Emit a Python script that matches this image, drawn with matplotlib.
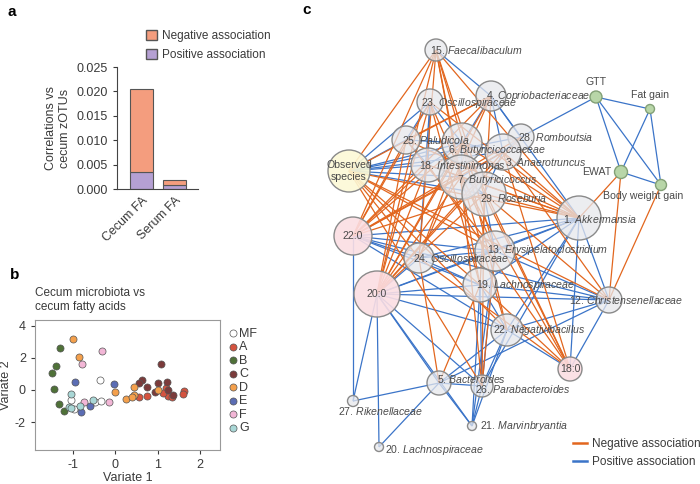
import matplotlib
matplotlib.use('Agg')
import matplotlib.pyplot as plt
from matplotlib.patches import Circle, Patch
from matplotlib.lines import Line2D

plt.rcParams['font.family'] = ['Liberation Sans', 'DejaVu Sans']
plt.rcParams['mathtext.fontset'] = 'custom'
plt.rcParams['mathtext.it'] = 'Liberation Sans:italic'
plt.rcParams['mathtext.rm'] = 'Liberation Sans'
plt.rcParams['axes.unicode_minus'] = False

# ---- panel a: share of significant correlations ----
fa_groups = ['Cecum FA', 'Serum FA']
positive_share = [0.0035, 0.0008]
negative_share = [0.0170, 0.0010]

# ---- panel b: sPLS variates, one list per group ----
group_names = ['MF', 'A', 'B', 'C', 'D', 'E', 'F', 'G']
group_colors = ['#ffffff', '#d4533f', '#4f7138', '#7b3b3b', '#f4a04c', '#5b6db4', '#f2b6d6', '#a9d7d6']
variate1 = [
    [-0.36, -1.05, -0.47, -0.33, -0.97],
    [0.57, 0.76, 1.20, 1.25, 1.33, 1.62, 1.60, 1.13],
    [-1.31, -1.39, -1.48, -1.45, -1.33, -1.20],
    [1.09, 0.63, 0.55, 0.74, 1.02, 1.23, 0.94, 1.25, 1.37],
    [-0.99, -0.86, 0.00, 0.25, 0.45, 0.44, 0.40, 1.02],
    [-0.94, -0.02, -0.59, -0.80],
    [-0.32, -0.78, -0.74, -0.14],
    [-1.03, -1.09, -1.03, -0.84, -0.53],
]
variate2 = [
    [0.62, -0.62, -0.77, -0.66, -1.20],
    [-0.46, -0.37, 0.10, -0.37, -0.41, -0.06, -0.25, -0.20],
    [2.63, 1.51, 1.04, 0.06, -0.89, -1.28],
    [1.61, 0.62, 0.41, 0.17, 0.41, 0.48, -0.10, 0.00, -0.31],
    [3.15, 2.03, -0.14, -0.58, 0.21, -0.30, -0.45, 0.00],
    [0.48, 0.35, -0.97, -1.39],
    [2.44, 1.59, -0.77, -0.72],
    [-0.27, -1.04, -1.14, -0.97, -0.62],
]

# ---- panel c: association network ----
node_keys = ['15', '4', '23', '25', '28', '6', '3', '18', 'obs', '7', '29', '1', 'c22', '24',
             '13', 'c20', '19', '12', '22', 'c18', '5', '26', '27', '21', '20',
             'gtt', 'fat', 'ewat', 'bwg']
node_number = ['15.', '4.', '23.', '25.', '28.', '6.', '3.', '18.', '', '7.', '29.', '1.', '', '24.',
               '13.', '', '19.', '12.', '22.', '', '5.', '26.', '27.', '21.', '20.',
               '', '', '', '']
node_name = ['Faecalibaculum', 'Copriobacteriaceae', 'Oscillospiraceae', 'Paludicola', 'Romboutsia',
             'Butyricicoccaceae', 'Anaerotruncus', 'Intestinimonas', 'Observed\nspecies',
             'Butyricicoccus', 'Roseburia', 'Akkermansia', '22:0', 'Oscillospiraceae',
             'Erysipelatoclostridium', '20:0', 'Lachnospiraceae', 'Christensenellaceae',
             'Negativibacillus', '18:0', 'Bacteroides', 'Parabacteroides', 'Rikenellaceae',
             'Marvinbryantia', 'Lachnospiraceae', 'GTT', 'Fat gain', 'EWAT', 'Body weight gain']
node_kind = ['taxon'] * 8 + ['obs', 'taxon', 'taxon', 'taxon', 'fa', 'taxon', 'taxon', 'fa',
             'taxon', 'taxon', 'taxon', 'fa', 'taxon', 'taxon', 'taxon', 'taxon', 'taxon',
             'pheno', 'pheno', 'pheno', 'pheno']
node_weight = [11, 15, 13, 14, 13, 20, 18, 17, 21, 22, 22, 22, 19, 15,
               20, 23, 17, 13, 16, 12, 12, 11, 5.5, 4.5, 4.5,
               6, 4.5, 6.5, 5.5]

# layout of the graph (x to the right, y downward)
layout_x = [436, 491, 430, 406, 521, 462, 503, 428, 349, 461, 484, 579, 353, 419,
            495, 377, 480, 609, 507, 570, 439, 482, 353, 472, 379,
            596, 650, 621, 661]
layout_y = [50, 96, 102, 140, 137, 143, 152, 165, 171, 177, 194, 218, 236, 258,
            251, 294, 285, 300, 330, 369, 383, 386, 401, 426, 447,
            97, 109, 172, 185]
label_dx = [-6, -5, -9, -4, -3, -14, 2, -9, 0, -4, -4, -16, 0, -6,
            -8, 0, -4, -40, -14, 0, -2, -7, -15, 8, 6,
            0, 0, -10, -18]
label_dy = [0, 0, 1, 0, 0, 7, 10, 0, 0, 3, 4, 1, 0, 1,
            -1, 0, 0, 0, 0, 0, -4, 3, 10, 0, 3,
            -15, -14, 0, 11]
label_ha = ['left'] * 8 + ['center', 'left', 'left', 'left', 'center', 'left', 'left', 'center',
            'left', 'left', 'left', 'center', 'left', 'left', 'left', 'left', 'left',
            'center', 'center', 'right', 'center']

negative_edges = [
    ('obs', '15'), ('obs', '4'), ('obs', '1'), ('obs', '24'), ('obs', '13'), ('obs', '19'),
    ('obs', '22'), ('obs', '26'), ('obs', '12'),
    ('c22', '15'), ('c22', '4'), ('c22', '23'), ('c22', '25'), ('c22', '28'), ('c22', '6'),
    ('c22', '3'), ('c22', '18'), ('c22', '7'), ('c22', '29'),
    ('c20', '15'), ('c20', '4'), ('c20', '23'), ('c20', '25'), ('c20', '6'), ('c20', '3'),
    ('c20', '18'), ('c20', '7'), ('c20', '29'), ('c20', '28'),
    ('c18', '6'), ('c18', '3'), ('c18', '7'), ('c18', '29'), ('c18', '18'), ('c18', '24'),
    ('c18', '19'),
    ('15', '24'), ('15', '13'), ('15', '19'), ('15', '1'), ('15', '7'), ('15', '29'),
    ('23', '13'), ('23', '19'), ('4', '24'), ('4', '19'), ('25', '4'), ('25', '13'),
    ('25', '1'), ('6', '1'), ('3', '1'), ('7', '1'), ('29', '1'), ('18', '1'), ('6', '22'),
    ('7', '22'), ('29', '12'), ('3', '12'), ('29', '26'), ('7', '26'), ('24', '5'),
    ('19', '5'), ('13', '26'), ('6', '24'), ('23', '1'),
    ('ewat', '1'), ('ewat', '12'), ('bwg', '12'),
]
positive_edges = [
    ('obs', '23'), ('obs', '25'), ('obs', '18'), ('obs', '6'), ('obs', '3'), ('obs', '7'),
    ('obs', '29'), ('obs', '28'),
    ('c22', '1'), ('c22', '13'), ('c22', '12'), ('c22', '19'), ('c22', '24'), ('c22', '27'),
    ('c22', '22'),
    ('c20', '5'), ('c20', '26'), ('c20', '22'), ('c20', '12'), ('c20', '13'), ('c20', '19'),
    ('c20', '24'), ('c20', '27'), ('c20', '20'), ('c20', '21'), ('c20', '1'),
    ('15', '4'), ('4', '1'), ('4', '28'), ('4', '3'), ('4', '6'), ('23', '25'), ('23', '6'),
    ('23', '18'), ('23', '24'), ('25', '18'), ('25', '6'), ('6', '3'), ('6', '18'), ('6', '7'),
    ('3', '7'), ('3', '29'), ('3', '28'), ('18', '7'), ('7', '29'), ('29', '13'),
    ('28', 'gtt'),
    ('1', '12'), ('1', '22'), ('1', '26'), ('1', '13'), ('1', 'c18'), ('1', '24'), ('1', '19'),
    ('12', '22'), ('12', 'c18'), ('12', '13'), ('12', '19'), ('12', '5'),
    ('22', '5'), ('22', '26'), ('22', 'c18'), ('22', '21'), ('22', '19'), ('13', '26'),
    ('13', '21'), ('13', '24'), ('19', '26'), ('19', '21'), ('24', '19'),
    ('5', '27'), ('5', '20'), ('5', '21'), ('5', '26'), ('26', '21'),
    ('gtt', 'fat'), ('gtt', 'ewat'), ('gtt', 'bwg'), ('fat', 'ewat'), ('fat', 'bwg'),
    ('ewat', 'bwg'),
]

ORANGE = '#e2661e'
BLUE = '#3b74c8'
TXT = '#3a3a3a'
W, H = 700, 484

fig = plt.figure(figsize=(7, 4.84), dpi=100)

# ================= panel a =================
ax_a = fig.add_axes([117 / W, 1 - 189 / H, 81 / W, 122 / H])
xpos = range(len(fa_groups))
ax_a.bar(xpos, positive_share, width=0.7, color='#b5a0d3', edgecolor='#555555', lw=0.8)
ax_a.bar(xpos, negative_share, width=0.7, bottom=positive_share, color='#f49d7e',
         edgecolor='#555555', lw=0.8)
ax_a.set_xlim(-0.74, 1.71)
ax_a.set_ylim(0, 0.025)
ax_a.set_yticks([0, 0.005, 0.010, 0.015, 0.020, 0.025])
ax_a.set_yticklabels(['%.3f' % v for v in [0, 0.005, 0.010, 0.015, 0.020, 0.025]])
ax_a.set_xticks(list(xpos))
ax_a.set_xticklabels(fa_groups, rotation=45, ha='right', rotation_mode='anchor')
ax_a.tick_params(axis='x', length=0, labelsize=9, colors=TXT, pad=4)
ax_a.tick_params(axis='y', length=3, labelsize=9, colors=TXT)
for s in ['top', 'right']:
    ax_a.spines[s].set_visible(False)
for s in ['left', 'bottom']:
    ax_a.spines[s].set_color('#444444')
ax_a.set_ylabel('Correlations vs\ncecum zOTUs', fontsize=9, color=TXT, labelpad=4)
fig.legend(handles=[Patch(facecolor='#f49d7e', edgecolor='#555555', label='Negative association'),
                    Patch(facecolor='#b5a0d3', edgecolor='#555555', label='Positive association')],
           loc='upper left', bbox_to_anchor=(140 / W, 1 - 24 / H), frameon=False, fontsize=8.5,
           handlelength=0.9, handleheight=0.9, handletextpad=0.5, labelspacing=0.6,
           borderpad=0, labelcolor=TXT)
fig.text(8 / W, 1 - 12 / H, 'a', fontsize=11, fontweight='bold', va='center')

# ================= panel b =================
ax_b = fig.add_axes([35 / W, 34 / H, 185 / W, 130 / H])
for name, col, xs, ys in zip(group_names, group_colors, variate1, variate2):
    ax_b.scatter(xs, ys, s=26, color=col, edgecolor='#555555', linewidth=0.5, label=name, zorder=3)
ax_b.set_xlim(-1.89, 2.47)
ax_b.set_ylim(-3.73, 4.35)
ax_b.set_xticks([-1, 0, 1, 2])
ax_b.set_yticks([-2, 0, 2, 4])
ax_b.tick_params(labelsize=9, colors=TXT, length=3)
for s in ax_b.spines.values():
    s.set_color('#999999')
ax_b.set_xlabel('Variate 1', fontsize=9, color=TXT, labelpad=1)
ax_b.set_ylabel('Variate 2', fontsize=9, color=TXT, labelpad=2)
ax_b.legend(loc='upper left', bbox_to_anchor=(1.03, 0.97), frameon=False, fontsize=9,
            handlelength=0.6, handletextpad=0.2, labelspacing=0.12, borderpad=0,
            borderaxespad=0.3, markerscale=1.0, labelcolor=TXT)
fig.text(35 / W, 1 - 287 / H, 'Cecum microbiota vs\ncecum fatty acids', fontsize=8.5,
         color=TXT, va='top', linespacing=1.25)
fig.text(10 / W, 1 - 275 / H, 'b', fontsize=11, fontweight='bold', va='center')

# ================= panel c =================
ax_c = fig.add_axes([300 / W, 0, 400 / W, 1])
ax_c.set_xlim(300, 700)
ax_c.set_ylim(H, 0)
ax_c.axis('off')
idx = {k: i for i, k in enumerate(node_keys)}

for edges, col in [(positive_edges, BLUE), (negative_edges, ORANGE)]:
    for a, b in edges:
        ia, ib = idx[a], idx[b]
        ax_c.plot([layout_x[ia], layout_x[ib]], [layout_y[ia], layout_y[ib]],
                  color=col, lw=0.9, zorder=1, solid_capstyle='butt')

face = {'taxon': (0.90, 0.905, 0.925, 0.75), 'fa': (0.985, 0.87, 0.89, 0.9),
        'obs': (0.99, 0.975, 0.84, 0.9), 'pheno': (0.72, 0.84, 0.66, 1.0)}
edge = {'taxon': '#8a8a8a', 'fa': '#8a8a8a', 'obs': '#8a8a8a', 'pheno': '#83a076'}
for i, k in enumerate(node_keys):
    kind = node_kind[i]
    ax_c.add_patch(Circle((layout_x[i], layout_y[i]), node_weight[i], facecolor=face[kind],
                          edgecolor=edge[kind], lw=1.0, zorder=2))
    if node_number[i]:
        txt = node_number[i] + ' $\\mathit{' + node_name[i] + '}$'
    else:
        txt = node_name[i]
    ax_c.text(layout_x[i] + label_dx[i], layout_y[i] + label_dy[i], txt, ha=label_ha[i],
              va='center', fontsize=7.6, color='#4a4a4a', zorder=3)

ax_c.legend(handles=[Line2D([], [], color=ORANGE, lw=1.8, label='Negative association'),
                     Line2D([], [], color=BLUE, lw=1.8, label='Positive association')],
            loc='upper left', bbox_to_anchor=(567 / W, 1 - 432 / H),
            bbox_transform=fig.transFigure, frameon=False, fontsize=8.5, handlelength=1.2,
            handletextpad=0.4, labelspacing=0.5, borderpad=0, labelcolor=TXT)
fig.text(302 / W, 1 - 10 / H, 'c', fontsize=11, fontweight='bold', va='center')

fig.savefig('out.png', dpi=100)
